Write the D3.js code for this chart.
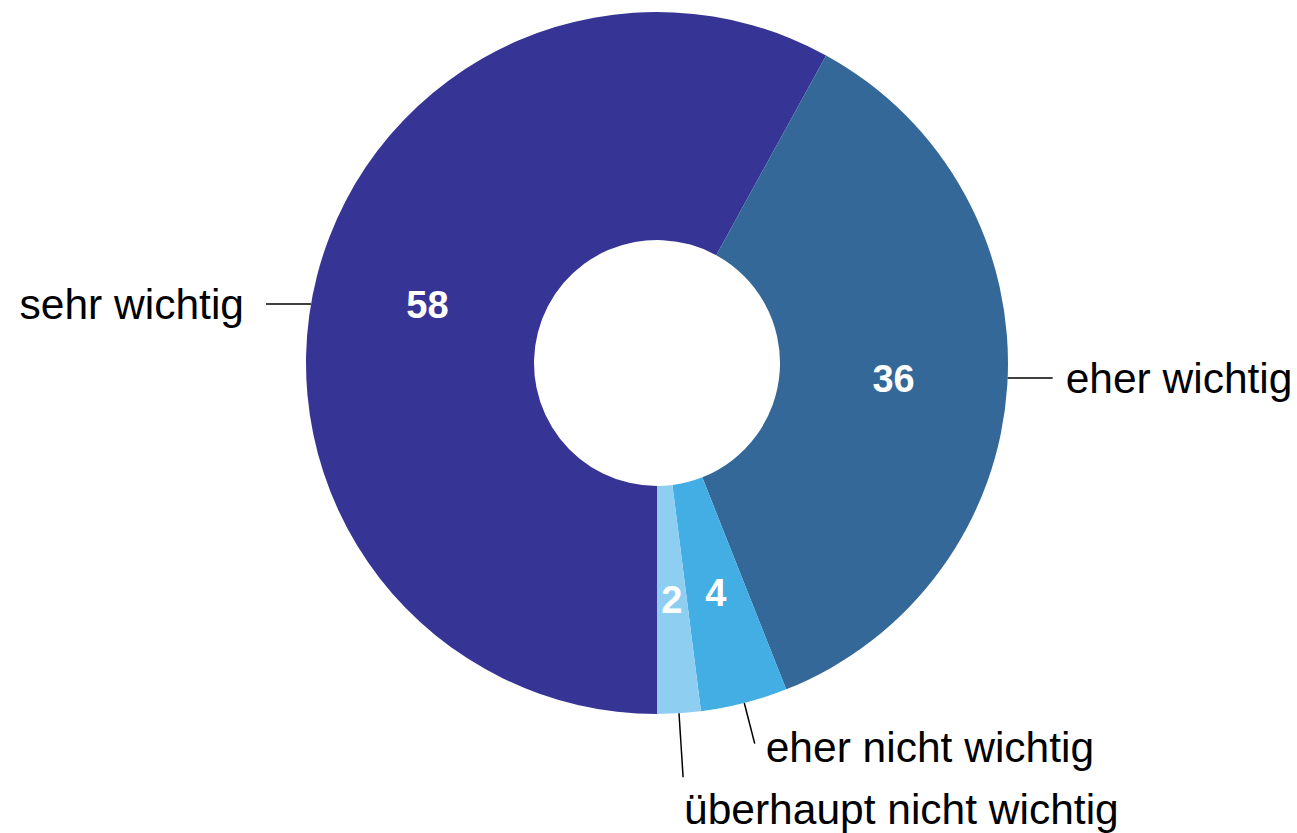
<!DOCTYPE html>
<html>
<head>
<meta charset="utf-8">
<script src="https://cdn.jsdelivr.net/npm/d3@7"></script>
<style>
  body { margin: 0; background: #fff; }
  svg { display: block; }
  text { font-family: "Liberation Sans", Arial, sans-serif; }
</style>
</head>
<body>
<div id="chart"></div>
<script>
// data
var categories = ["sehr wichtig", "eher wichtig", "eher nicht wichtig", "überhaupt nicht wichtig"];
var values = [58, 36, 4, 2];
var colors = ["#363596", "#346899", "#42aee3", "#8ecef0"];

var data = categories.map(function(c, i) { return { name: c, value: values[i], color: colors[i] }; });

var width = 1297, height = 833,
    cx = 657, cy = 363,
    outerR = 351, innerR = 123;

var svg = d3.select("#chart").append("svg")
    .attr("width", width)
    .attr("height", height);

var g = svg.append("g").attr("transform", "translate(" + cx + "," + cy + ")");

// start at 6 o'clock and go clockwise
var pie = d3.pie()
    .sort(null)
    .value(function(d) { return d.value; })
    .startAngle(Math.PI)
    .endAngle(3 * Math.PI);

var arc = d3.arc().innerRadius(innerR).outerRadius(outerR);

var arcs = pie(data);

g.selectAll("path.slice")
    .data(arcs)
    .enter()
    .append("path")
    .attr("class", "slice")
    .attr("d", arc)
    .style("fill", function(d) { return d.data.color; });

// value labels at centroid
g.selectAll("text.val")
    .data(arcs)
    .enter()
    .append("text")
    .attr("class", "val")
    .attr("x", function(d) { return arc.centroid(d)[0]; })
    .attr("y", function(d) { return arc.centroid(d)[1]; })
    .attr("dy", "0.36em")
    .attr("text-anchor", "middle")
    .style("font-size", "38px")
    .style("font-weight", "bold")
    .style("fill", "#fff")
    .text(function(d) { return d.data.value; });

// category labels with leader lines
var bottomCount = 0;
arcs.forEach(function(d) {
  var mid = (d.startAngle + d.endAngle) / 2;
  var s = Math.sin(mid), c = -Math.cos(mid);
  var x0, y0, x1, y1, tx, ty, anchor;
  if (Math.abs(s) > 0.5) {
    // side label: horizontal line at the centroid height
    var side = s > 0 ? 1 : -1;
    y0 = arc.centroid(d)[1];
    x0 = side * Math.sqrt(outerR * outerR - y0 * y0);
    x1 = x0 + side * 45;
    y1 = y0;
    tx = x1 + (side > 0 ? 13 : -22);
    ty = y1;
    anchor = side > 0 ? "start" : "end";
  } else {
    // bottom label: radial line, later ones pushed lower
    var len = bottomCount === 0 ? 42 : 64;
    x0 = s * outerR; y0 = c * outerR;
    x1 = s * (outerR + len); y1 = c * (outerR + len);
    if (bottomCount === 0) {
      tx = x1 + 11; ty = y1 + 3;
    } else {
      tx = x1 + 1; ty = y1 + 32;
    }
    anchor = "start";
    bottomCount++;
  }
  g.append("line")
    .attr("x1", x0).attr("y1", y0)
    .attr("x2", x1).attr("y2", y1)
    .style("stroke", "#000")
    .style("stroke-width", 1.5);
  g.append("text")
    .attr("x", tx)
    .attr("y", ty)
    .attr("dy", "0.36em")
    .attr("text-anchor", anchor)
    .style("font-size", "42.5px")
    .style("fill", "#000")
    .text(d.data.name);
});
</script>
</body>
</html>
